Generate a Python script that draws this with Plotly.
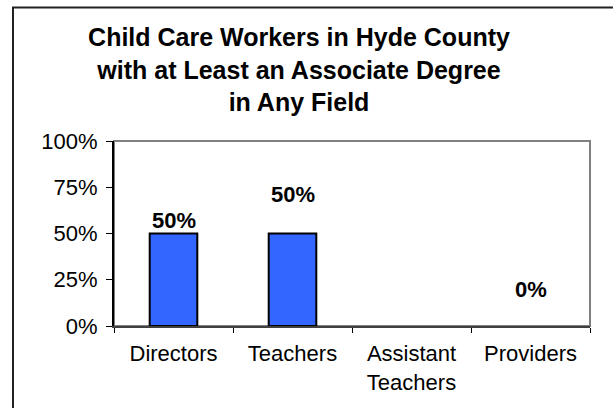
import plotly.graph_objects as go

categories = ["Directors", "Teachers", "Assistant<br>Teachers", "Providers"]
values = [0.50, 0.50, None, 0.0]
value_labels = ["50%", "50%", "", "0%"]
y_tickvals = [0, 0.25, 0.5, 0.75, 1.0]
y_ticktext = ["0%", "25%", "50%", "75%", "100%"]

# label placement (layout only, in axis units above the bar value)
label_lift = [0.07, 0.21, 0.0, 0.195]

FONT = "Arial, Liberation Sans, sans-serif"

outline_w = [2 if (v or 0) > 0 else 0 for v in values]

fig = go.Figure()
fig.add_trace(go.Bar(
    x=categories,
    y=values,
    width=0.40,
    marker=dict(color="#3366FF", line=dict(color="black", width=outline_w)),
    hoverinfo="skip",
))

for cat, val, lab, lift in zip(categories, values, value_labels, label_lift):
    if not lab:
        continue
    fig.add_annotation(
        x=cat, y=(val or 0) + lift, text="<b>%s</b>" % lab, showarrow=False,
        font=dict(family=FONT, size=22, color="black"),
        xanchor="center", yanchor="middle",
    )

W, H = 613, 408
fig.update_layout(
    width=W, height=H,
    margin=dict(l=114, r=W - 590, t=141, b=H - 326),
    paper_bgcolor="white", plot_bgcolor="white",
    showlegend=False,
    title=dict(
        text="<b>Child Care Workers in Hyde County<br>with at Least an Associate Degree<br>in Any Field</b>",
        x=299 / W, xref="container", xanchor="center",
        y=1 - 46 / H, yref="container", yanchor="top",
        font=dict(family=FONT, size=25, color="black"),
    ),
    font=dict(family=FONT, size=22, color="black"),
)

fig.update_xaxes(
    type="category",
    showline=True, linecolor="#404040", linewidth=2,
    ticks="outside", tickson="boundaries", ticklen=5, tickcolor="black", tickwidth=1,
    tickfont=dict(family=FONT, size=22, color="black"),
    ticklabelstandoff=7,
    showgrid=False, zeroline=False,
)
fig.update_yaxes(
    range=[0, 1], tickvals=y_tickvals, ticktext=y_ticktext,
    showline=True, linecolor="black", linewidth=2,
    ticks="outside", ticklen=6, tickcolor="black", tickwidth=1,
    tickfont=dict(family=FONT, size=22, color="black"),
    ticklabelstandoff=4,
    showgrid=False, zeroline=False,
)

# plot area frame (gray) and outer chart border (black)
fig.add_shape(type="rect", xref="paper", yref="paper", x0=0, x1=1, y0=0, y1=1,
              line=dict(color="#808080", width=2), layer="below")
fig.add_shape(type="rect", xref="paper", yref="paper",
              x0=(13 - 114) / 476, x1=(650 - 114) / 476,
              y0=(326 - 450) / 185, y1=(326 - 7.5) / 185,
              line=dict(color="#222222", width=2), layer="below")

fig.write_html(
    "out.html",
    config={"displayModeBar": False},
    post_script="document.body.style.margin='0';document.body.style.overflow='hidden';",
)
